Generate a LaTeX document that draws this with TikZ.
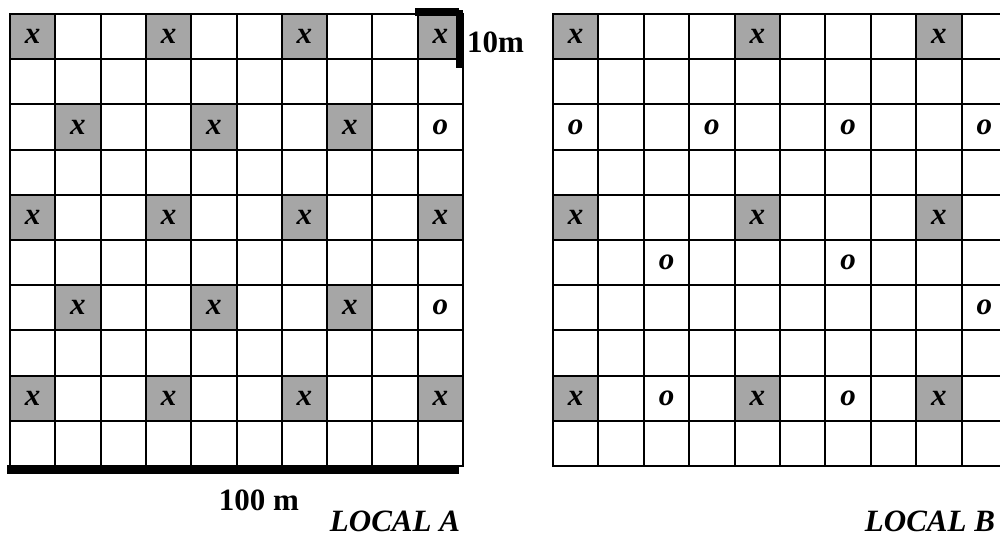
\documentclass[tikz,border=0pt]{standalone}
\usepackage{fontspec}
\setmainfont{Liberation Serif}
\definecolor{cellgray}{RGB}{166,166,166}
\begin{document}
\begin{tikzpicture}[x=1pt,y=-1pt,
  gridline/.style={line width=2pt,line cap=rect},
  cellmark/.style={inner sep=0pt,font=\fontsize{31}{31}\selectfont\bfseries\itshape},
  labeltext/.style={inner sep=0pt,font=\fontsize{31}{31}\selectfont\bfseries},
  labelital/.style={inner sep=0pt,font=\fontsize{31}{31}\selectfont\bfseries\itshape},
  scalebar/.style={fill=black}]
\useasboundingbox (0,0) rectangle (1000,537);
\clip (0,0) rectangle (1000,537);
% ---------- LOCAL A ----------
\def\ax{10}\def\ay{14}\def\acw{45.3}\def\ach{45.2}
\foreach \c/\r in {1/1,4/1,7/1,10/1,2/3,5/3,8/3,1/5,4/5,7/5,10/5,2/7,5/7,8/7,1/9,4/9,7/9,10/9}{
  \fill[cellgray] ({\ax+(\c-1)*\acw},{\ay+(\r-1)*\ach}) rectangle ++(\acw,\ach);
  \node[cellmark] (a-\c-\r) at ({\ax+(\c-0.5)*\acw},{\ay+(\r-0.5)*\ach}) {x};
}
\foreach \c/\r in {10/3,10/7}{
  \node[cellmark] (a-\c-\r) at ({\ax+(\c-0.5)*\acw},{\ay+(\r-0.5)*\ach}) {o};
}
\foreach \i in {0,...,10}{
  \draw[gridline] ({\ax+\i*\acw},\ay) -- ++(0,{10*\ach});
  \draw[gridline] (\ax,{\ay+\i*\ach}) -- ++({10*\acw},0);
}
% scale bars
\fill[scalebar] (415,8) rectangle (459,16);
\fill[scalebar] (456,10) rectangle (463,68);
\fill[scalebar] (7,465) rectangle (459,474);
\node[labeltext,anchor=base west] (tenm) at (467,53) {10m};
\node[labeltext,anchor=base] (hundredm) at (259,510) {100 m};
\node[labelital,anchor=base] (locala) at (395,531) {LOCAL A};
% ---------- LOCAL B ----------
\def\bx{553}\def\by{14}\def\bcw{45.4}\def\bch{45.2}
\foreach \c/\r in {1/1,5/1,9/1,1/5,5/5,9/5,1/9,5/9,9/9}{
  \fill[cellgray] ({\bx+(\c-1)*\bcw},{\by+(\r-1)*\bch}) rectangle ++(\bcw,\bch);
  \node[cellmark] (b-\c-\r) at ({\bx+(\c-0.5)*\bcw},{\by+(\r-0.5)*\bch}) {x};
}
\foreach \c/\r in {1/3,4/3,7/3,10/3,3/6,7/6,10/7,3/9,7/9}{
  \node[cellmark] (b-\c-\r) at ({\bx+(\c-0.5)*\bcw},{\by+(\r-0.5)*\bch}) {o};
}
\foreach \i in {0,...,10}{
  \draw[gridline] ({\bx+\i*\bcw},\by) -- ++(0,{10*\bch});
  \draw[gridline] (\bx,{\by+\i*\bch}) -- ++({10*\bcw},0);
}
\node[labelital,anchor=base] (localb) at (930,531) {LOCAL B};
\end{tikzpicture}
\end{document}
